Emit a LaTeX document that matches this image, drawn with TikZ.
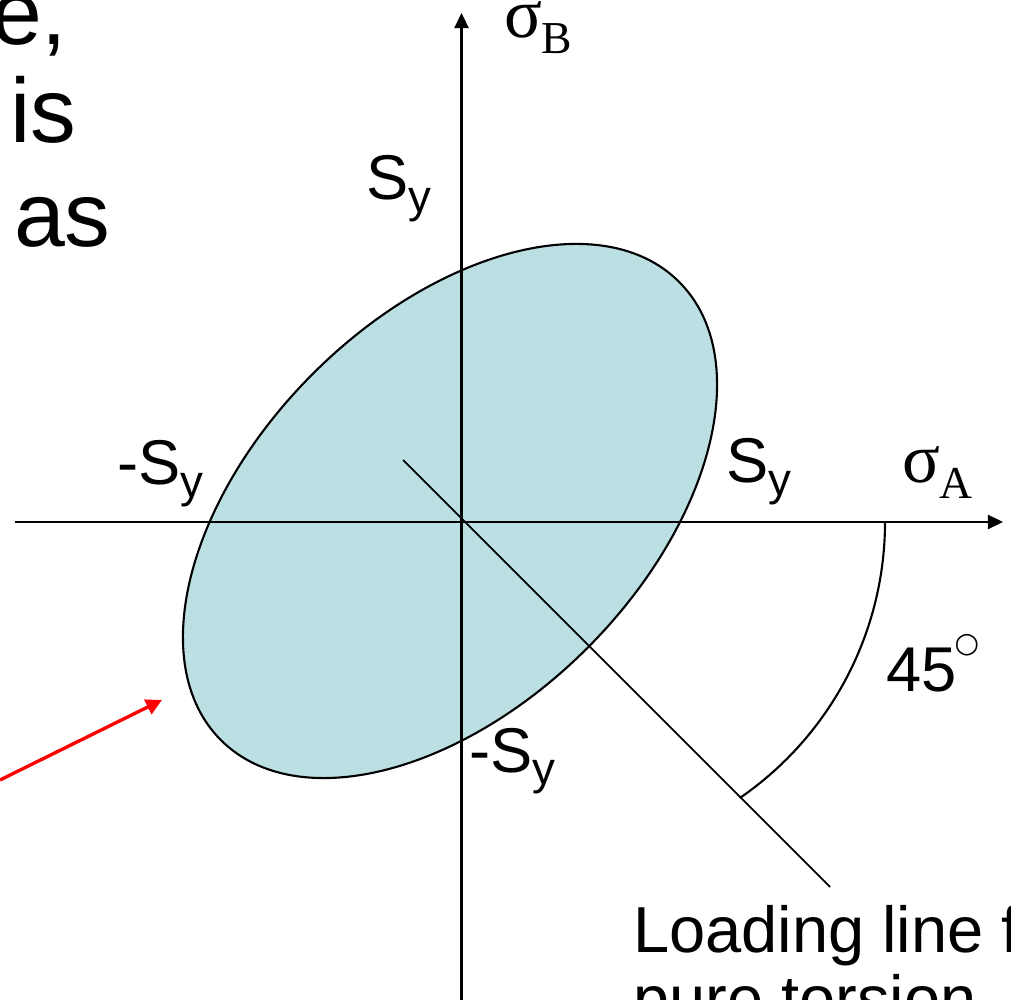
\documentclass[tikz,border=0pt]{standalone}
\usepackage{fontspec}
\setmainfont{Liberation Sans}
\newfontfamily\greekfont{Liberation Serif}
\newfontfamily\shapefont{DejaVu Sans}
\usetikzlibrary{arrows.meta}
\definecolor{cfill}{HTML}{BBDFE3}
\definecolor{cred}{HTML}{FF0000}
\tikzset{
  every picture/.style={line width=0.6pt},
  axis/.style={-{Triangle[length=4.3pt, width=4pt]}, line width=0.65pt},
  region/.style={draw=black, fill=cfill, line width=0.6pt},
  loadline/.style={draw=black, line width=0.5pt},
  pointer/.style={-{Triangle[length=4.5pt, width=4.5pt]}, draw=cred, line width=0.95pt},
  lbl/.style={font=\fontsize{18}{20}\selectfont, inner sep=0pt, anchor=base west},
  frag/.style={font=\fontsize{26}{30}\selectfont, inner sep=0pt, anchor=base west},
  sig/.style={font=\greekfont\fontsize{20}{22}\selectfont, inner sep=0pt, anchor=base west},
}
\newcommand{\ysub}{\raisebox{-3.5pt}{\fontsize{13}{13}\selectfont y}}
\newcommand{\gsub}[1]{\raisebox{-4.3pt}{\fontsize{13}{13}\selectfont #1}}

\begin{document}
\begin{tikzpicture}
  \useasboundingbox (0,0) rectangle (10.11,9.99);
  \clip (0,0) rectangle (10.11,9.99);
  % yield region and loading line
  \coordinate (ctr) at (4.50,4.88);
  \draw[region, rotate around={45:(ctr)}] (ctr) ellipse [x radius=3.24, y radius=1.94];
  \coordinate (ls) at (4.03,5.39);
  \coordinate (le) at (8.30,1.12);
  \draw[loadline] (ls) -- (le);
  % axes
  \coordinate (xa0) at (0.15,4.77);
  \coordinate (xa1) at (10.03,4.77);
  \coordinate (ya0) at (4.615,-0.1);
  \coordinate (ya1) at (4.615,9.86);
  \draw[axis] (xa0) -- (xa1);
  \draw[axis] (ya0) -- (ya1);
  % angle mark
  \coordinate (ang) at (8.85,4.77);
  \draw (ang) arc[start angle=0, end angle=-55.5, radius=3.35];
  % axis labels
  \node[sig] (sb) at (5.03,9.61) {σ\gsub{B}};
  \node[sig] (sa) at (9.01,5.16) {σ\gsub{A}};
  \node[lbl] (sytop) at (3.65,7.99) {S\ysub};
  \node[lbl] (syleft) at (1.16,5.14) {-S\ysub};
  \node[lbl] (syright) at (7.25,5.16) {S\ysub};
  \node[lbl] (sybot) at (4.68,2.27) {-S\ysub};
  \node[lbl] (deg) at (8.85,3.07) {45\kern-0.5pt\raisebox{11.3pt}{\shapefont\fontsize{8}{8}\selectfont ○}};
  \node[lbl, font=\fontsize{18.5}{20}\selectfont] (load1) at (6.32,0.47) {Loading line f};
  \node[lbl, font=\fontsize{18.5}{20}\selectfont] (load2) at (6.32,-0.22) {pure torsion};
  % text cut off at the left
  \node[frag] (fa) at (-0.10,9.54) {e,};
  \node[frag] (fb) at (0.09,8.56) {is};
  \node[frag] (fc) at (0.13,7.52) {as};
  % pointer
  \coordinate (rs) at (0,2.19);
  \coordinate (rt) at (1.62,2.99);
  \draw[pointer] (rs) -- (rt);
\end{tikzpicture}
\end{document}
